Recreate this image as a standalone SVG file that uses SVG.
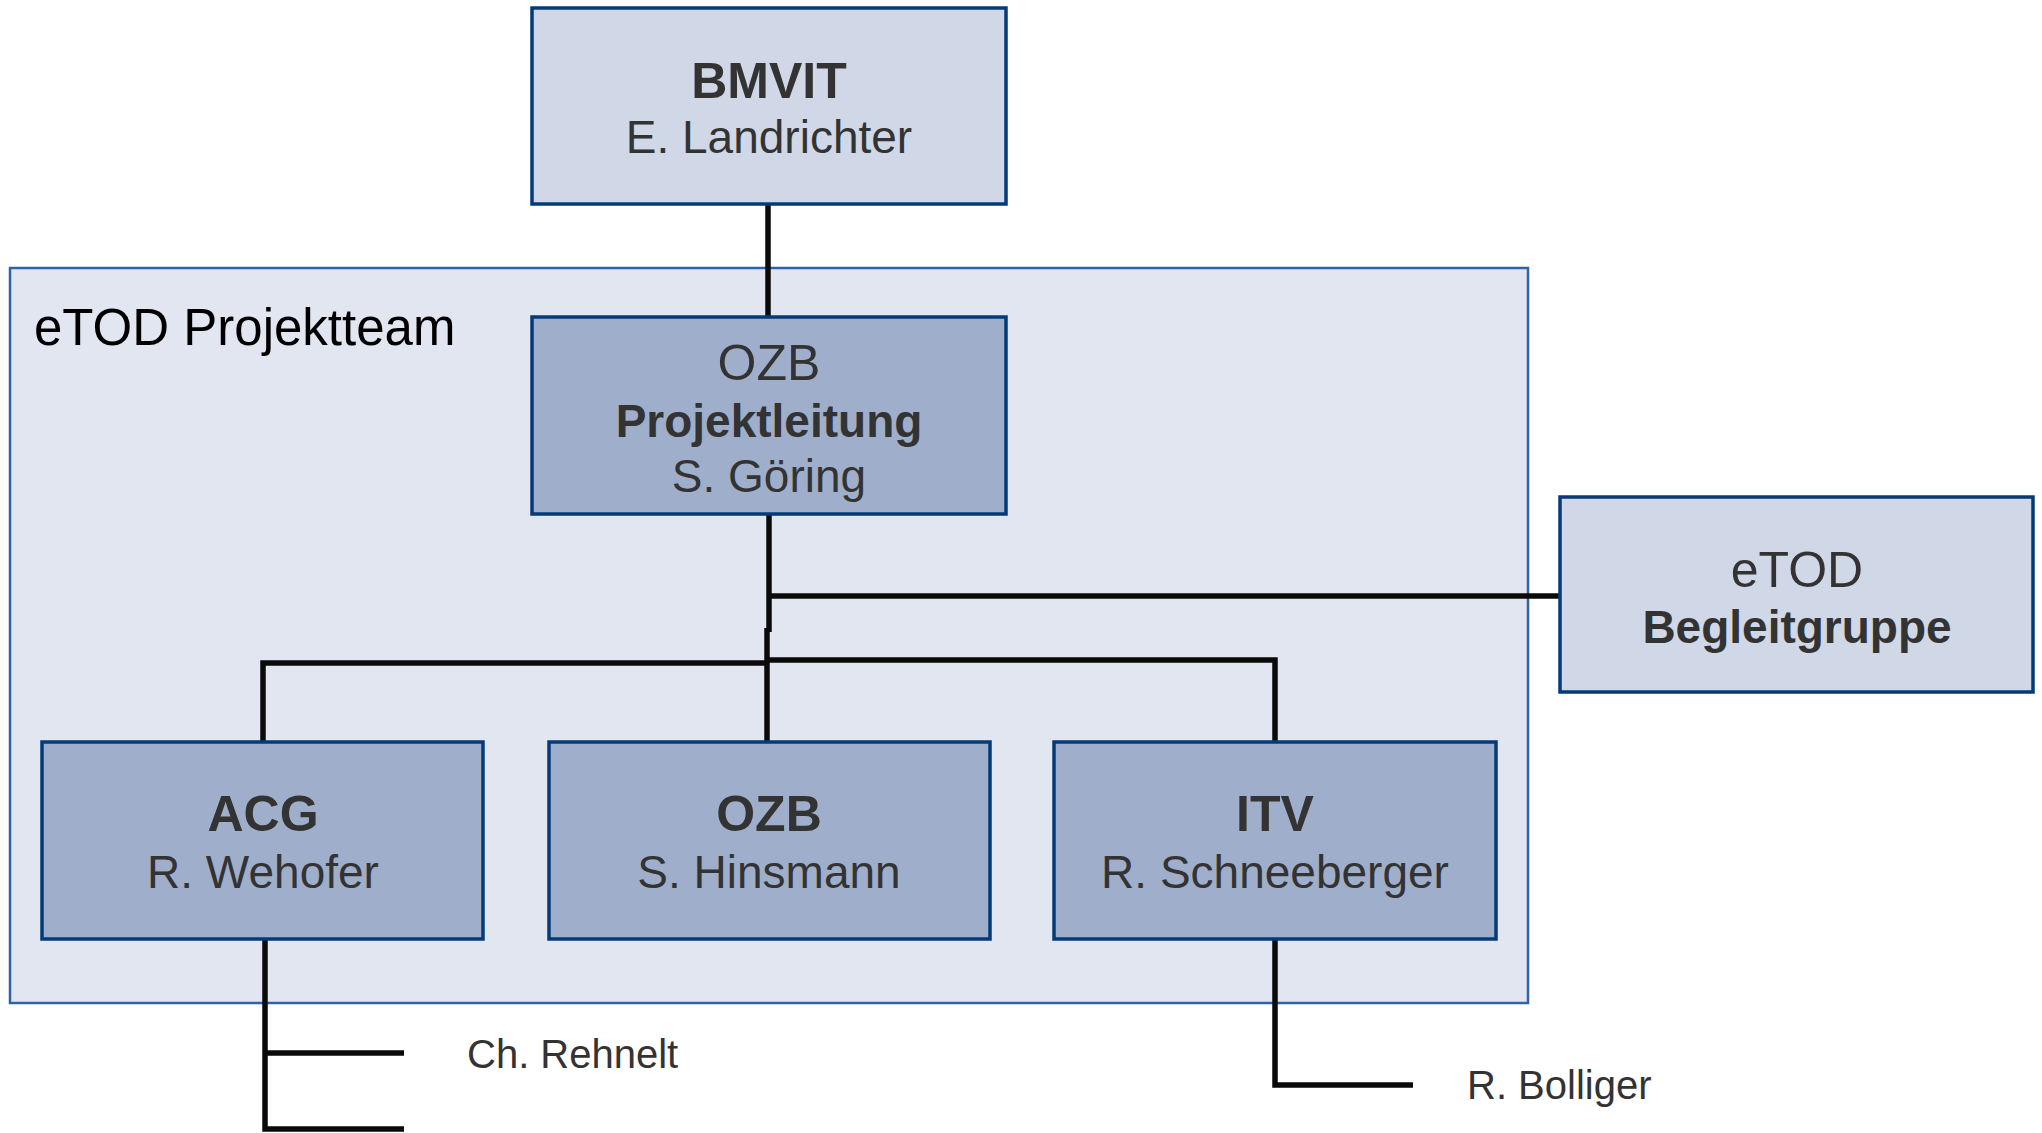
<svg xmlns="http://www.w3.org/2000/svg" width="2042" height="1133" viewBox="0 0 2042 1133">
<style>
.light{fill:#D0D8E7;stroke:#053A79;stroke-width:3.5}
.dark{fill:#9FAFCB;stroke:#053A79;stroke-width:3.5}
.t{font-family:"Liberation Sans",Arial,sans-serif;fill:#333333;text-anchor:middle}
.big{font-size:50px}
.med{font-size:46px}
.sm{font-size:40px}
.b{font-weight:bold}
.conn{fill:none;stroke:#0A0A0A;stroke-width:5.5}
</style>
<rect width="2042" height="1133" fill="#FFFFFF"/>
<g id="projektteam">
<rect x="10" y="268" width="1518" height="735" fill="#E1E6F1" stroke="#2F62A6" stroke-width="2.5"/>
<text x="34" y="345" font-family="Liberation Sans, Arial, sans-serif" font-size="51" fill="#000000">eTOD Projektteam</text>
</g>
<g id="connectors">
<path class="conn" d="M768,204 V320"/>
<path class="conn" d="M769,514 V632"/>
<path class="conn" d="M767,628 V742"/>
<path class="conn" d="M769,596 H1560"/>
<path class="conn" d="M263,742 V663 H767"/>
<path class="conn" d="M767,660 H1275 V742"/>
<path class="conn" d="M265,939 V1129 H404"/>
<path class="conn" d="M265,1053 H404"/>
<path class="conn" d="M1275,939 V1085 H1413"/>
</g>
<g id="bmvit">
<rect class="light" x="532" y="8" width="474" height="196"/>
<text class="t big b" x="769" y="98">BMVIT</text>
<text class="t med" x="769" y="153">E. Landrichter</text>
</g>
<g id="ozb-projektleitung">
<rect class="dark" x="532" y="317" width="474" height="197"/>
<text class="t big" x="769" y="380">OZB</text>
<text class="t med b" x="769" y="437">Projektleitung</text>
<text class="t med" x="769" y="492">S. Göring</text>
</g>
<g id="begleitgruppe">
<rect class="light" x="1560" y="497" width="473" height="195"/>
<text class="t big" x="1797" y="587">eTOD</text>
<text class="t med b" x="1797" y="643">Begleitgruppe</text>
</g>
<g id="acg">
<rect class="dark" x="42" y="742" width="441" height="197"/>
<text class="t big b" x="263" y="831">ACG</text>
<text class="t med" x="263" y="888">R. Wehofer</text>
</g>
<g id="ozb">
<rect class="dark" x="549" y="742" width="441" height="197"/>
<text class="t big b" x="769" y="831">OZB</text>
<text class="t med" x="769" y="888">S. Hinsmann</text>
</g>
<g id="itv">
<rect class="dark" x="1054" y="742" width="442" height="197"/>
<text class="t big b" x="1275" y="831">ITV</text>
<text class="t med" x="1275" y="888">R. Schneeberger</text>
</g>
<g id="rehnelt">
<text class="t sm" x="467" y="1068" style="text-anchor:start">Ch. Rehnelt</text>
</g>
<g id="bolliger">
<text class="t sm" x="1467" y="1099" style="text-anchor:start">R. Bolliger</text>
</g>
</svg>
